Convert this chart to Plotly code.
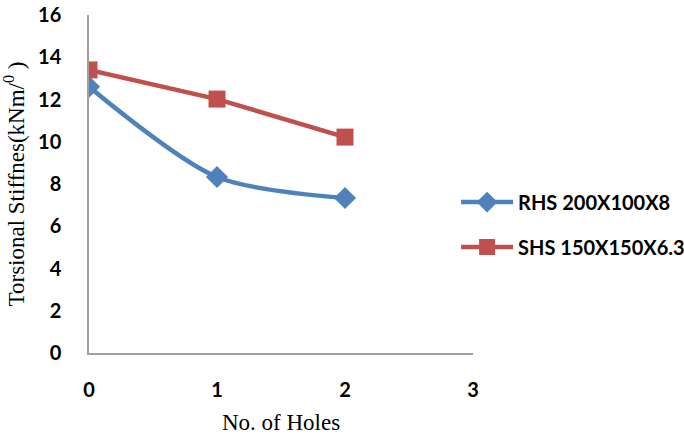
import plotly.graph_objects as go

holes = [0, 1, 2]
rhs = [12.6, 8.33, 7.34]
shs = [13.4, 12.02, 10.22]
x_ticks = [0, 1, 2, 3]
y_ticks = [0, 2, 4, 6, 8, 10, 12, 14, 16]

fig = go.Figure()
fig.add_trace(go.Scatter(
    x=holes, y=rhs, name="RHS 200X100X8", mode="lines+markers", legendgroup="a",
    line=dict(color="#4F81BD", width=4.5, shape="spline", smoothing=0.8),
    marker=dict(symbol="diamond", size=17, color="#4F81BD"),
))
fig.add_trace(go.Scatter(
    x=holes, y=shs, name="SHS 150X150X6.3", mode="lines+markers", legendgroup="b",
    line=dict(color="#C0504D", width=4.5),
    marker=dict(symbol="square", size=17, color="#C0504D"),
))

tickfont = dict(family="Lato", size=20, color="black", weight="bold")
fig.update_layout(
    width=684, height=435,
    margin=dict(l=89, r=211, t=15, b=82, autoexpand=False),
    paper_bgcolor="white", plot_bgcolor="white",
    showlegend=True,
    legend=dict(x=0.956, y=0.38, xanchor="left", yanchor="middle",
                font=dict(family="Lato", size=20, color="black", weight="bold"),
                traceorder="grouped", tracegroupgap=16, itemwidth=52,
                itemsizing="trace", bgcolor="rgba(0,0,0,0)"),
    xaxis=dict(range=[0, 3], tickvals=x_ticks, showgrid=False, zeroline=False,
               showline=True, linecolor="#A0A0A0", linewidth=1.5, automargin=False,
               ticks="", ticklabelstandoff=18, tickfont=tickfont,
               title=dict(text="No. of Holes", standoff=16,
                          font=dict(family="Liberation Serif", size=23, color="black"))),
    yaxis=dict(range=[0, 16], tickvals=y_ticks, showgrid=False, zeroline=False,
               showline=True, linecolor="#A0A0A0", linewidth=1.5, automargin=False,
               ticks="", ticklabelstandoff=22, tickfont=tickfont,
               title=dict(text="Torsional Stiffnes(kNm/<sup>0</sup> )", standoff=12,
                          font=dict(family="Liberation Serif", size=23, color="black"))),
)
fig.write_html("out.html")
